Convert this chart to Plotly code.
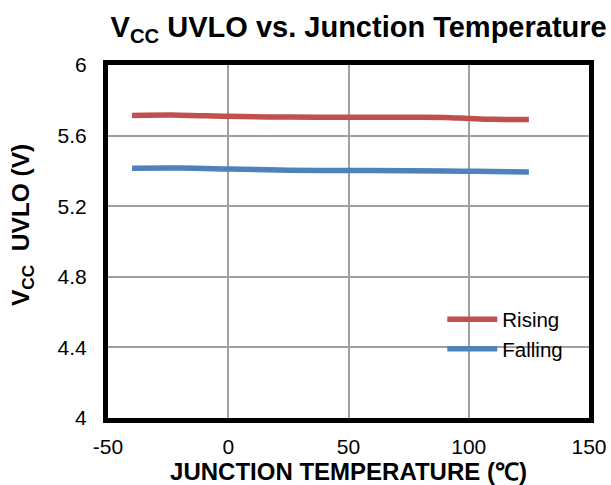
import plotly.graph_objects as go

temps = [-40, -20, 0, 25, 50, 75, 90, 100, 110, 125]
rising = [5.714, 5.716, 5.709, 5.705, 5.704, 5.704, 5.703, 5.697, 5.692, 5.691]
falling = [5.415, 5.416, 5.411, 5.404, 5.402, 5.401, 5.400, 5.398, 5.396, 5.394]

x_ticks = [-50, 0, 50, 100, 150]
y_ticks = [4, 4.4, 4.8, 5.2, 5.6, 6]

font = "Liberation Sans, Arial, sans-serif"

fig = go.Figure()
fig.add_trace(go.Scatter(x=temps, y=rising, mode="lines", name="Rising",
                         line=dict(color="#C0504D", width=5.5, shape="spline")))
fig.add_trace(go.Scatter(x=temps, y=falling, mode="lines", name="Falling",
                         line=dict(color="#4F81BD", width=5.5, shape="spline")))

fig.update_layout(
    width=611, height=485,
    margin=dict(l=108, r=22, t=65, b=67, autoexpand=False),
    paper_bgcolor="white", plot_bgcolor="white",
    font=dict(family=font, size=21, color="black"),
    title=dict(text="<b>V<sub>CC</sub> UVLO vs. Junction Temperature</b>",
               x=0.587, xanchor="center", y=1 - 27 / 485, yanchor="middle",
               font=dict(family=font, size=29, color="black")),
    showlegend=True,
    legend=dict(x=0.695, y=0.336, xanchor="left", yanchor="top",
                bgcolor="rgba(0,0,0,0)", font=dict(size=20.5),
                tracegroupgap=0, itemwidth=50),
    annotations=[dict(text="<b>V<sub>CC</sub>  UVLO (V)</b>", textangle=-90,
                      xref="paper", yref="paper", x=(22 - 108) / 481, y=(418 - 225) / 353,
                      xanchor="center", yanchor="middle", showarrow=False,
                      font=dict(family=font, size=24.5, color="black"))],
)
fig.update_xaxes(range=[-50, 150], tickvals=x_ticks, ticktext=[str(v) for v in x_ticks],
                 showgrid=True, gridcolor="#A0A0A0", gridwidth=1.5,
                 showline=True, linecolor="black", linewidth=5, mirror=True,
                 zeroline=False, ticks="", ticklabelstandoff=6, automargin=False,
                 title=dict(text="<b>JUNCTION TEMPERATURE (℃)</b>", standoff=2,
                            font=dict(family=font, size=24)))
fig.update_yaxes(range=[4, 6], tickvals=y_ticks, ticktext=[f"{v:g}" for v in y_ticks],
                 showgrid=True, gridcolor="#A0A0A0", gridwidth=1.5,
                 showline=True, linecolor="black", linewidth=5, mirror=True,
                 zeroline=False, ticks="", ticklabelstandoff=12, automargin=False)

fig.write_html("out.html", config={"displayModeBar": False},
               post_script="document.body.style.margin='0px';")
